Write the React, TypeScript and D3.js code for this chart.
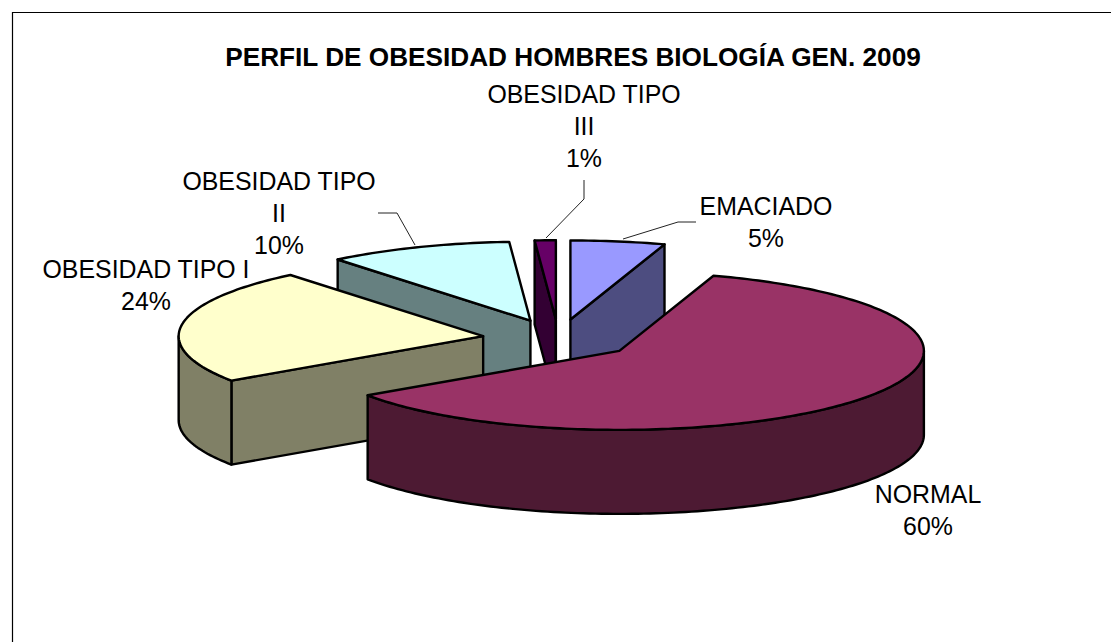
import React from 'react';
import * as d3 from 'd3';

const title = 'PERFIL DE OBESIDAD HOMBRES BIOLOGÍA GEN. 2009';

// Slice order runs clockwise from 12 o'clock
const categories = ['EMACIADO', 'NORMAL', 'OBESIDAD TIPO I', 'OBESIDAD TIPO II', 'OBESIDAD TIPO III'];
const shares = [5.0, 60.49, 23.6, 9.8, 1.11];
const topColors = ['#9999ff', '#993366', '#ffffcc', '#ccffff', '#660066'];
const wallColors = ['#4d4d80', '#4d1a33', '#808066', '#668080', '#330033'];

const width = 1111;
const height = 642;
const cx = 558.5;
const cy = 339;
const rx = 304.5;
const ry = 79;
const depth = 84;
const explode = 0.25;
const fontFamily = '"Liberation Sans", Arial, sans-serif';

// Label text lines, anchor and first baseline per slice
const labelLines = [
  ['EMACIADO'],
  ['NORMAL'],
  ['OBESIDAD TIPO I'],
  ['OBESIDAD TIPO', 'II'],
  ['OBESIDAD TIPO', 'III'],
];
const labelAnchors = [
  { x: 766, y: 215 },
  { x: 928, y: 503 },
  { x: 146, y: 278 },
  { x: 279, y: 190 },
  { x: 584, y: 103 },
];
const leaders: ([number, number][] | null)[] = [
  [[623, 239], [678, 222], [696, 222]],
  null,
  null,
  [[415, 245], [397, 213], [378, 213]],
  [[546, 238], [584, 199], [584, 180]],
];

type Pt = [number, number];

const toPath = d3.line<Pt>();

function sampleAngles(a0: number, a1: number) {
  const steps = Math.max(2, Math.ceil(Math.abs(a1 - a0) / 0.02));
  return d3.range(steps + 1).map((i) => a0 + ((a1 - a0) * i) / steps);
}

export default function App() {
  const arcs = d3.pie<number>().sort(null)(shares);

  const slices = arcs.map((arc, i) => {
    const mid = (arc.startAngle + arc.endAngle) / 2;
    const ox = cx + explode * rx * Math.sin(mid);
    const oy = cy - explode * ry * Math.cos(mid);
    const rim = (t: number, drop = 0): Pt => [ox + rx * Math.sin(t), oy - ry * Math.cos(t) + drop];

    const top = `${toPath([[ox, oy], ...sampleAngles(arc.startAngle, arc.endAngle).map((t) => rim(t))])}Z`;

    const walls: string[] = [];
    const edgeWall = (t: number) =>
      `${toPath([[ox, oy], rim(t), rim(t, depth), [ox, oy + depth]])}Z`;
    // a cut face shows only when it turns toward the viewer
    if (Math.sin(arc.startAngle) < 0) walls.push(edgeWall(arc.startAngle));
    if (Math.sin(arc.endAngle) > 0) walls.push(edgeWall(arc.endAngle));

    const from = Math.max(arc.startAngle, Math.PI / 2);
    const to = Math.min(arc.endAngle, (3 * Math.PI) / 2);
    if (from < to) {
      const front = sampleAngles(from, to);
      const lower = front.map((t) => rim(t, depth)).reverse();
      walls.push(`${toPath([...front.map((t) => rim(t)), ...lower])}Z`);
    }

    return { i, oy, top, walls };
  });

  const drawOrder = [...slices].sort((a, b) => d3.ascending(a.oy, b.oy));

  return (
    <svg
      width={width}
      height={height}
      style={{ position: 'absolute', left: 0, top: 0, display: 'block', background: '#fff' }}
      fontFamily={fontFamily}
    >
      {/* chart frame, only top and left fall inside the picture */}
      <path d={`M12.5,${height}V12.5H${width}`} fill="none" stroke="#000" strokeWidth={1.2} />

      <text x={573} y={66} textAnchor="middle" fontSize={26.2} fontWeight="bold" fill="#000">
        {title}
      </text>

      {drawOrder.map((s) => (
        <g key={categories[s.i]} stroke="#000" strokeWidth={2.4} strokeLinejoin="round">
          {s.walls.map((d, k) => (
            <path key={k} d={d} fill={wallColors[s.i]} />
          ))}
          <path d={s.top} fill={topColors[s.i]} />
        </g>
      ))}

      {leaders.map((pts, i) =>
        pts ? (
          <path key={i} d={toPath(pts as Pt[]) ?? ''} fill="none" stroke="#222" strokeWidth={1} />
        ) : null
      )}

      {categories.map((name, i) => {
        const lines = [...labelLines[i], `${Math.round(shares[i])}%`];
        return (
          <text key={name} textAnchor="middle" fontSize={24.9} fill="#000">
            {lines.map((line, k) => (
              <tspan key={k} x={labelAnchors[i].x} y={labelAnchors[i].y + k * 32}>
                {line}
              </tspan>
            ))}
          </text>
        );
      })}
    </svg>
  );
}
